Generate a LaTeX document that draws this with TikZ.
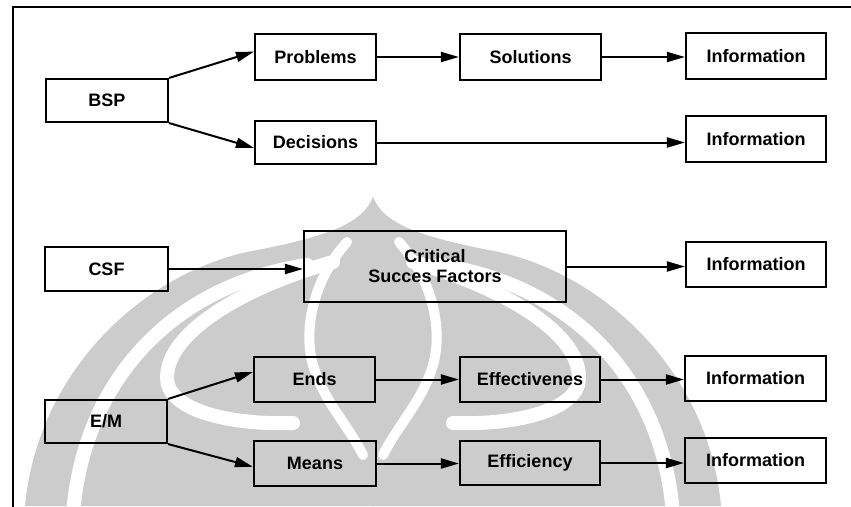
\documentclass[tikz,border=0pt]{standalone}
\usepackage{fontspec}
\setmainfont{Liberation Sans}
\usetikzlibrary{arrows.meta}
\definecolor{emblemgray}{gray}{0.8}
% one half of the symmetric emblem; #1 = 1 (right) or -1 (left)
\newcommand{\emblemhalf}[1]{%
  \begin{scope}[shift={(373,0)}, xscale=#1]
    \fill[emblemgray] (0,197) .. controls (10,222) and (40,236) .. (126,252)
      .. controls (230,275) and (335,370) .. (348,506) -- (-2,506) -- (-2,202) -- cycle;
    \draw[band] (66,265) .. controls (200,285) and (290,380) .. (300,515);
    \draw[band] (40,262) .. controls (140,290) and (215,340) .. (205,385)
      .. controls (195,415) and (130,425) .. (80,423);
    \draw[band, line width=10pt] (26,242) .. controls (60,280) and (70,330) .. (60,365)
      .. controls (50,400) and (25,425) .. (10,455);
  \end{scope}}
\begin{document}
\begin{tikzpicture}[x=1pt,y=-1pt,
  box/.style={draw, line width=2.1pt, inner sep=0pt, align=center,
              font=\fontsize{18}{20}\selectfont\bfseries},
  link/.style={line width=2pt, -{Triangle[length=18pt,width=10pt]}},
  band/.style={draw=white, line width=14pt, line cap=round}]
\useasboundingbox (0,0) rectangle (851,506);
\clip (0,0) rectangle (851,506);
\fill[white] (0,0) rectangle (851,506);

% faint emblem behind the diagram
\emblemhalf{1}
\emblemhalf{-1}

% frame
\draw[line width=2pt] (13,520) -- (13,7) -- (860,7);

% boxes
\node[box, minimum width=122pt, minimum height=43pt] (bsp)   at (107,100.5) {BSP};
\node[box, minimum width=121pt, minimum height=46pt] (prob)  at (315.5,57)  {Problems};
\node[box, minimum width=141pt, minimum height=46pt] (sol)   at (530.5,57)  {Solutions};
\node[box, minimum width=140pt, minimum height=46pt] (infoA) at (756,56)    {Information};
\node[box, minimum width=121pt, minimum height=43pt] (dec)   at (315.5,142.5) {Decisions};
\node[box, minimum width=140pt, minimum height=46pt] (infoB) at (756,139)   {Information};

\node[box, minimum width=123pt, minimum height=44pt] (csf)   at (106.5,269) {CSF};
\node[box, minimum width=262pt, minimum height=71pt] (crit)  at (435,266.5) {Critical\\Succes Factors};
\node[box, minimum width=140pt, minimum height=45pt] (infoC) at (756,264.5) {Information};

\node[box, minimum width=122pt, minimum height=43pt] (em)    at (106,421.5) {E/M};
\node[box, minimum width=121pt, minimum height=45pt] (ends)  at (314.5,379.5) {Ends};
\node[box, minimum width=140pt, minimum height=45pt] (eff)   at (530,379.5) {Effectivenes};
\node[box, minimum width=141pt, minimum height=45pt] (infoD) at (755.5,378.5) {Information};
\node[box, minimum width=122pt, minimum height=45pt] (means) at (315,463.5) {Means};
\node[box, minimum width=140pt, minimum height=44pt] (effc)  at (530,463)   {Efficiency};
\node[box, minimum width=141pt, minimum height=45pt] (infoE) at (755.5,460.5) {Information};

% connectors
\draw[link] (bsp.north east) -- (prob.175);
\draw[link] (bsp.south east) -- (dec.185);
\draw[link] (prob.east) -- (sol.west);
\draw[link] (sol.east) -- (sol.east -| infoA.west);
\draw[link] (dec.east) -- (dec.east -| infoB.west);

\draw[link] (csf.east) -- (csf.east -| crit.west);
\draw[link] (crit.east) -- (crit.east -| infoC.west);

\draw[link] (em.north east) -- (ends.173);
\draw[link] (em.south east) -- (means.183);
\draw[link] (ends.east) -- (ends.east -| eff.west);
\draw[link] (eff.east) -- (eff.east -| infoD.west);
\draw[link] (means.east) -- (means.east -| effc.west);
\draw[link] (effc.east) -- (effc.east -| infoE.west);
\end{tikzpicture}
\end{document}
